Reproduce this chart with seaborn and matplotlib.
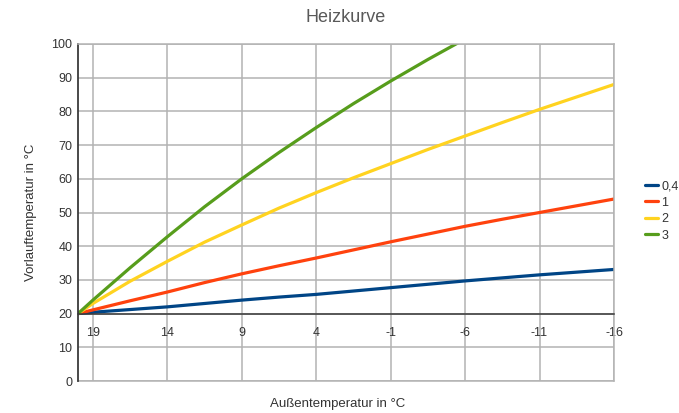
import pandas as pd
import seaborn as sns
import matplotlib
matplotlib.use('Agg')
import matplotlib.pyplot as plt

# Heizkurven: Vorlauftemperatur je Außentemperatur
aussen = [20, 19, 16.5, 14, 11.5, 9, 6.5, 4, 1.5, -1, -3.5, -6, -8.5, -11, -13.5, -16]
kurve_04 = [20, 20.4, 21.2, 22.0, 23.0, 24.0, 24.9, 25.7, 26.7, 27.7, 28.7, 29.7, 30.6, 31.5, 32.3, 33.1]
kurve_1 = [20, 21.1, 23.8, 26.4, 29.2, 31.8, 34.2, 36.5, 38.9, 41.3, 43.6, 45.9, 48.0, 50.0, 52.0, 54.0]
kurve_2 = [20, 23.0, 29.6, 35.5, 41.2, 46.3, 51.3, 55.9, 60.3, 64.5, 68.7, 72.7, 76.7, 80.6, 84.3, 88.0]
kurve_3 = [20, 24.0, 33.6, 42.8, 51.7, 60.0, 67.8, 75.2, 82.3, 89.0, 95.4, 101.5]  # danach über 100
namen = ['0,4', '1', '2', '3']
farben = ['#004586', '#ff420e', '#ffd320', '#579d1c']
x_ticks = [19, 14, 9, 4, -1, -6, -11, -16]

rows = []
for name, werte in zip(namen, [kurve_04, kurve_1, kurve_2, kurve_3]):
    for a, v in zip(aussen, werte):
        rows.append({'Außentemperatur': a, 'Vorlauf': v, 'Kurve': name})
df = pd.DataFrame(rows)

sns.set_style('white')
plt.rcParams['font.family'] = ['Liberation Sans', 'DejaVu Sans']
plt.rcParams['axes.unicode_minus'] = False

fig = plt.figure(figsize=(6.79, 4.13), dpi=100)
ax = fig.add_axes([78 / 679, 1 - 381 / 413, 536 / 679, 337 / 413])

grid = '#b3b3b3'
dark = '#3a3a3a'

sns.lineplot(data=df, x='Außentemperatur', y='Vorlauf', hue='Kurve',
             hue_order=namen, palette=farben, linewidth=2.3, ax=ax,
             legend=True)

ax.set_xlim(20, -16)
ax.set_ylim(0, 100)
ax.set_xticks(x_ticks)
ax.set_yticks(range(0, 101, 10))
ax.grid(True, color=grid, linewidth=1.1)
ax.set_axisbelow(True)

ax.spines['bottom'].set_position(('data', 20))
ax.spines['bottom'].set_color(dark)
ax.spines['bottom'].set_linewidth(1.1)
ax.spines['left'].set_color(dark)
ax.spines['left'].set_linewidth(1.3)
for s in ['top', 'right']:
    ax.spines[s].set_color(grid)
    ax.spines[s].set_linewidth(1.1)
ax.axhline(0, color=grid, linewidth=1.1, clip_on=False, zorder=0.5)

ax.tick_params(axis='y', direction='in', length=5, width=1.1, color=dark,
               labelsize=9, labelcolor='#333333', pad=4)
ax.tick_params(axis='x', direction='out', length=3, width=1.1, color=dark,
               labelsize=9, labelcolor='#333333', pad=7)

ax.set_xlabel('Außentemperatur in °C', fontsize=9.5, color='#333333')
ax.set_ylabel('Vorlauftemperatur in °C', fontsize=9.5, color='#333333')
ax.xaxis.set_label_coords(0.485, -0.05)
ax.yaxis.set_label_coords(-0.077, 0.5)

fig.text(346 / 679, 1 - 17 / 413, 'Heizkurve', ha='center', va='center',
         fontsize=13, color='#595959')

handles, labels = ax.get_legend_handles_labels()
ax.legend(handles, labels, loc='center left',
          bbox_to_anchor=(639 / 679, 1 - 211 / 413),
          bbox_transform=fig.transFigure, frameon=False, fontsize=9,
          handlelength=1.0, handletextpad=0.3, labelspacing=0.35,
          borderpad=0, labelcolor='#333333')

fig.savefig('out.png', dpi=100)
